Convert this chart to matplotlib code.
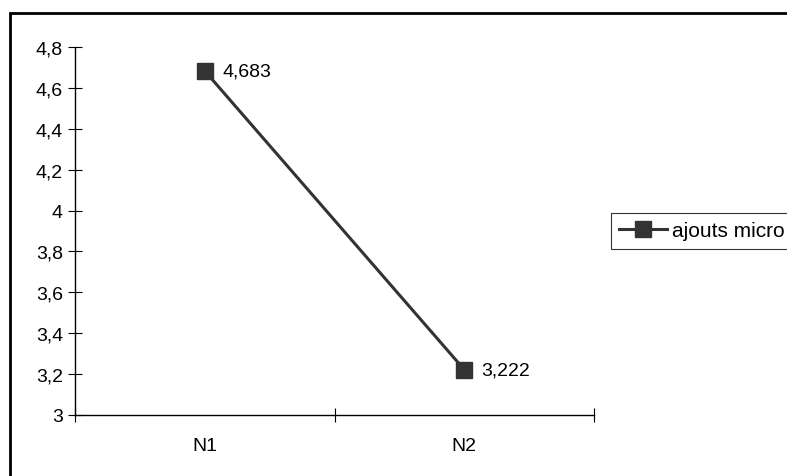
import matplotlib
matplotlib.use("Agg")
import matplotlib.pyplot as plt
from matplotlib.patches import Rectangle

categories = ["N1", "N2"]
values = [4.683, 3.222]
series_name = "ajouts micro"
yticks = [3, 3.2, 3.4, 3.6, 3.8, 4, 4.2, 4.4, 4.6, 4.8]

plt.rcParams['font.family'] = ['Liberation Sans', 'DejaVu Sans']

def fmt(v):
    s = ("%g" % v).replace(".", ",")
    return s

fig = plt.figure(figsize=(7.87, 4.77), dpi=100)
ax = fig.add_axes([75/787, 1-416/477, (594-75)/787, (416-48)/477])

xs = [i + 0.5 for i in range(len(categories))]
color = "#333333"
ax.plot(xs, values, color=color, lw=2.2, marker="s", ms=11.5, mfc=color, mec=color,
        label=series_name)
for x, v in zip(xs, values):
    ax.annotate(fmt(round(v, 3)), (x, v), xytext=(12.5, 0), textcoords="offset points",
                va="center", ha="left", fontsize=14)

ax.set_xlim(0, len(categories))
ax.set_ylim(yticks[0], yticks[-1])
ax.set_yticks(yticks)
ax.set_yticklabels([fmt(t) for t in yticks], fontsize=14)
ax.set_xticks(range(len(categories) + 1))
ax.set_xticklabels([])
ax.set_xticks(xs, minor=True)
ax.set_xticklabels(categories, minor=True, fontsize=14)
ax.tick_params(axis="x", which="minor", length=0, pad=16)
ax.tick_params(axis="both", which="major", direction="inout", length=9.5, width=0.8, color="black")
ax.tick_params(axis="y", pad=4)
for s in ["top", "right"]:
    ax.spines[s].set_visible(False)
for s in ["left", "bottom"]:
    ax.spines[s].set_linewidth(1)

leg = fig.legend(loc="upper left", bbox_to_anchor=(611/787, 1-214/477), frameon=True,
                 fancybox=False, edgecolor="black", fontsize=15, handlelength=2.3,
                 handletextpad=0.25, borderpad=0.4, borderaxespad=0)
leg.get_frame().set_linewidth(0.8)

fig.patches.append(Rectangle((10/787, -0.1), 1.2, 1-14/477+0.1, transform=fig.transFigure,
                             fill=False, edgecolor="black", lw=2))

fig.savefig("out.png", dpi=100)
